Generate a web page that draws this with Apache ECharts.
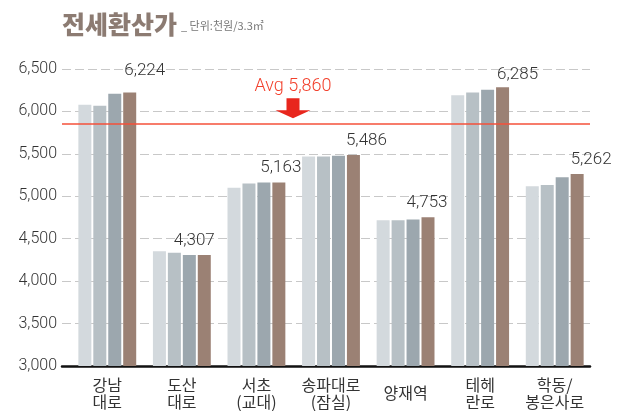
<!DOCTYPE html>
<html>
<head>
<meta charset="utf-8">
<script src="https://cdn.jsdelivr.net/npm/echarts@6/dist/echarts.min.js"></script>
<style>
  html, body { margin: 0; padding: 0; background: #fff; }
  #chart { width: 628px; height: 411px; }
</style>
</head>
<body>
<div id="chart"></div>
<script>
// 지역 (x축)
const regions = ['강남\n대로', '도산\n대로', '서초\n(교대)', '송파대로\n(잠실)', '양재역', '테헤\n란로', '학동/\n봉은사로']
// 4개 시점 값 (마지막이 최신, 라벨 표시)
const period1 = [6079, 4351, 5101, 5470, 4718, 6190, 5117]
const period2 = [6067, 4334, 5151, 5470, 4718, 6223, 5133]
const period3 = [6209, 4307, 5163, 5478, 4725, 6254, 5223]
const period4 = [6224, 4307, 5163, 5486, 4753, 6285, 5262]
const avgValue = 5860
const yTicks = [3000, 3500, 4000, 4500, 5000, 5500, 6000, 6500]

const barColors = ['#d3d9dd', '#b7c0c5', '#9ca7ae', '#9b8174']
// 라벨 위치 보정 (px)
const labelNudge = [[15, -7], [-10, 0], [2, 0], [13, 0], [-1, 0], [15, 2], [14, 0]]

const fmt = v => v.toLocaleString('en-US')
const numFont = 'Roboto, "Liberation Sans", sans-serif'
const krFont = '"Noto Sans CJK KR", sans-serif'

const chart = echarts.init(document.getElementById('chart'))

const periods = [period1, period2, period3, period4]
const barSeries = periods.map((vals, i) => ({
  name: 'p' + (i + 1),
  type: 'bar',
  xAxisIndex: 1,
  yAxisIndex: 1,
  barWidth: 13,
  barGap: '15%',
  itemStyle: { color: barColors[i] },
  data: vals.map((v, j) => {
    if (i !== 3) return v
    return {
      value: v,
      label: {
        show: true,
        position: 'top',
        distance: 6,
        offset: labelNudge[j],
        formatter: p => fmt(p.value),
        fontFamily: numFont,
        fontWeight: 300,
        fontSize: 17,
        color: '#333'
      }
    }
  })
}))

chart.setOption({
  animation: false,
  title: [
    {
      text: '전세환산가',
      left: 57,
      top: 7,
      textStyle: { fontFamily: krFont, fontWeight: 900, fontSize: 25, color: '#8c7b72' }
    },
    {
      text: '_ 단위:천원/3.3㎡',
      left: 176,
      top: 15,
      textStyle: { fontFamily: krFont, fontWeight: 'normal', fontSize: 11, color: '#777' }
    }
  ],
  grid: [
    { left: 62, right: 38, top: 69, bottom: 45 },
    { left: 70, right: 36, top: 69, bottom: 45 }
  ],
  xAxis: [
    {
      type: 'value',
      gridIndex: 0,
      min: 0,
      max: 1,
      axisLine: { show: true, onZero: false, lineStyle: { color: '#111', width: 2.5 } },
      axisTick: { show: false },
      axisLabel: { show: false },
      splitLine: { show: false }
    },
    {
      type: 'category',
      gridIndex: 1,
      data: regions.map(r => (r.indexOf('\n') < 0 ? { value: r, textStyle: { lineHeight: 34 } } : r)),
      axisLine: { show: false },
      axisTick: { show: false },
      axisLabel: {
        margin: 10,
        fontFamily: krFont,
        fontSize: 16,
        lineHeight: 17,
        color: '#333',
        interval: 0
      }
    }
  ],
  yAxis: [
    {
      type: 'value',
      gridIndex: 0,
      min: yTicks[0],
      max: yTicks[yTicks.length - 1],
      interval: 500,
      axisLine: { show: false },
      axisTick: { show: false },
      axisLabel: {
        margin: 5,
        formatter: v => fmt(v),
        fontFamily: numFont,
        fontWeight: 300,
        fontSize: 16,
        color: '#333'
      },
      splitLine: { lineStyle: { color: '#c8c8c8', type: [9, 4], width: 1 } }
    },
    {
      type: 'value',
      gridIndex: 1,
      min: yTicks[0],
      max: yTicks[yTicks.length - 1],
      interval: 500,
      show: false
    }
  ],
  series: [
    ...barSeries,
    {
      name: 'avg',
      type: 'line',
      xAxisIndex: 0,
      yAxisIndex: 0,
      data: [],
      z: 5,
      markLine: {
        silent: true,
        symbol: 'none',
        label: { show: false },
        lineStyle: { color: '#f4503a', width: 1.5, type: 'solid' },
        data: [{ yAxis: avgValue }]
      },
      markPoint: {
        silent: true,
        symbol: 'path://M11,0 L24,0 L24,12 L35,12 L17.5,20 L0,12 L11,12 Z',
        symbolSize: [35, 20],
        symbolOffset: [0, -15],
        itemStyle: { color: '#e8261d' },
        label: {
          show: true,
          position: 'top',
          distance: 3,
          formatter: 'Avg ' + fmt(avgValue),
          fontFamily: numFont,
          fontWeight: 300,
          fontSize: 18,
          color: '#f2402c'
        },
        data: [{ coord: [0.4375, avgValue] }]
      }
    }
  ]
})
</script>
</body>
</html>
